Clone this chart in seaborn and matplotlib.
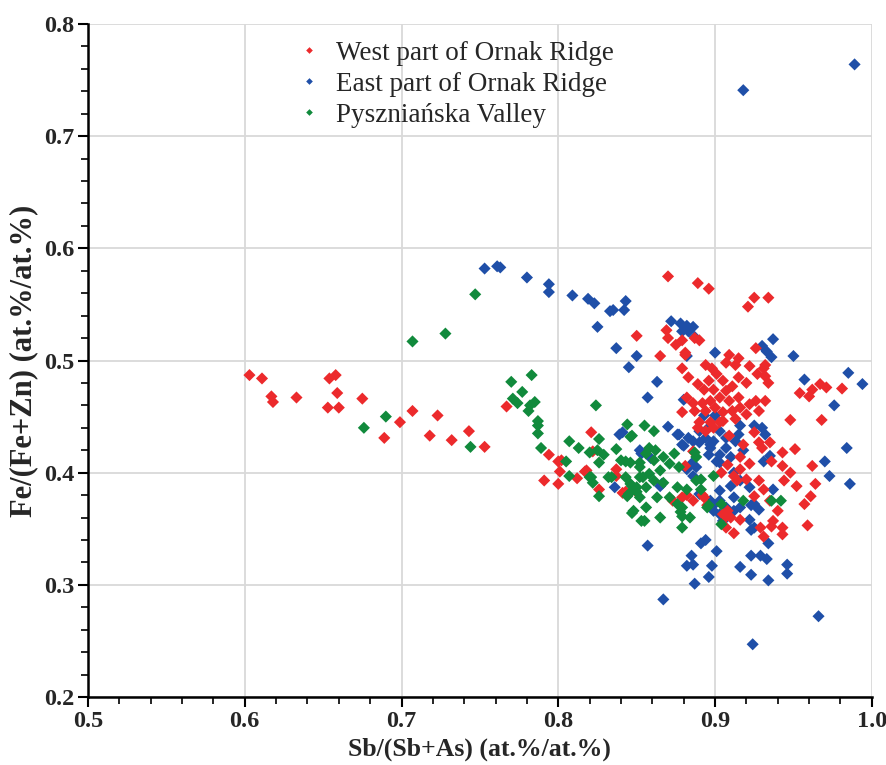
import pandas as pd
import matplotlib
matplotlib.use("Agg")
import matplotlib.pyplot as plt
from matplotlib.ticker import MultipleLocator, FormatStrFormatter
import seaborn as sns

# -------------------------------
# Data
# -------------------------------
west_x = [0.603, 0.611, 0.617, 0.618, 0.633, 0.654, 0.658, 0.659, 0.653, 0.660,
          0.675, 0.707, 0.699, 0.723, 0.718, 0.689, 0.732, 0.743, 0.753, 0.767,
          0.870, 0.889, 0.896, 0.925, 0.934, 0.921, 0.869, 0.870, 0.875, 0.879,
          0.890, 0.850, 0.865, 0.881, 0.887, 0.881, 0.879, 0.883, 0.889, 0.894,
          0.898, 0.901, 0.905, 0.896, 0.893, 0.899, 0.907, 0.911, 0.915, 0.920,
          0.915, 0.909, 0.903, 0.897, 0.892, 0.886, 0.882, 0.887, 0.894, 0.900,
          0.905, 0.911, 0.916, 0.922, 0.926, 0.932, 0.928, 0.920, 0.913, 0.905,
          0.897, 0.890, 0.909, 0.915, 0.913, 0.907, 0.922, 0.927, 0.934, 0.931,
          0.926, 0.889, 0.894, 0.954, 0.960, 0.962, 0.967, 0.971, 0.981, 0.948,
          0.968, 0.932, 0.932, 0.935, 0.930, 0.943, 0.951, 0.943, 0.962, 0.964,
          0.961, 0.957, 0.959, 0.943, 0.936, 0.931, 0.948, 0.952, 0.944, 0.936,
          0.928, 0.916, 0.912, 0.928, 0.931, 0.925, 0.916, 0.907, 0.912, 0.907,
          0.893, 0.886, 0.879, 0.873, 0.904, 0.908, 0.886, 0.899, 0.879, 0.821,
          0.822, 0.794, 0.800, 0.801, 0.791, 0.800, 0.812, 0.817, 0.826, 0.837,
          0.841, 0.935, 0.940, 0.903, 0.909, 0.916, 0.922, 0.914, 0.920, 0.905,
          0.910, 0.881, 0.843, 0.849, 0.802, 0.818, 0.837, 0.908, 0.929, 0.937,
          0.943, 0.882, 0.895, 0.892, 0.925, 0.918]
west_y = [0.487, 0.484, 0.468, 0.463, 0.467, 0.484, 0.487, 0.471, 0.458, 0.458,
          0.466, 0.455, 0.445, 0.451, 0.433, 0.431, 0.429, 0.437, 0.423, 0.459,
          0.575, 0.569, 0.564, 0.556, 0.556, 0.548, 0.527, 0.520, 0.514, 0.518,
          0.518, 0.522, 0.504, 0.505, 0.520, 0.507, 0.493, 0.485, 0.479, 0.496,
          0.493, 0.488, 0.482, 0.482, 0.474, 0.474, 0.473, 0.477, 0.485, 0.480,
          0.467, 0.464, 0.467, 0.464, 0.462, 0.462, 0.467, 0.455, 0.455, 0.458,
          0.454, 0.455, 0.458, 0.461, 0.464, 0.464, 0.455, 0.452, 0.448, 0.446,
          0.445, 0.445, 0.505, 0.502, 0.496, 0.498, 0.495, 0.488, 0.480, 0.493,
          0.511, 0.440, 0.437, 0.471, 0.468, 0.474, 0.479, 0.476, 0.475, 0.447,
          0.447, 0.496, 0.486, 0.427, 0.422, 0.418, 0.421, 0.406, 0.406, 0.390,
          0.379, 0.372, 0.353, 0.345, 0.352, 0.343, 0.400, 0.388, 0.393, 0.410,
          0.427, 0.403, 0.397, 0.393, 0.385, 0.379, 0.358, 0.361, 0.346, 0.351,
          0.378, 0.375, 0.378, 0.375, 0.400, 0.407, 0.419, 0.440, 0.454, 0.436,
          0.419, 0.416, 0.410, 0.401, 0.393, 0.390, 0.395, 0.401, 0.385, 0.403,
          0.382, 0.375, 0.366, 0.445, 0.433, 0.414, 0.408, 0.393, 0.394, 0.363,
          0.360, 0.406, 0.383, 0.384, 0.411, 0.402, 0.397, 0.366, 0.351, 0.357,
          0.351, 0.380, 0.371, 0.380, 0.436, 0.425]

east_x = [0.753, 0.761, 0.763, 0.780, 0.794, 0.794, 0.809, 0.819, 0.823, 0.833,
          0.835, 0.843, 0.842, 0.825, 0.837, 0.850, 0.845, 0.863, 0.857, 0.872,
          0.878, 0.882, 0.886, 0.883, 0.887, 0.879, 0.882, 0.900, 0.937, 0.936,
          0.950, 0.985, 0.994, 0.957, 0.976, 0.930, 0.933, 0.880, 0.893, 0.900,
          0.890, 0.894, 0.903, 0.907, 0.877, 0.883, 0.930, 0.932, 0.918, 0.989,
          0.857, 0.867, 0.891, 0.894, 0.901, 0.885, 0.882, 0.886, 0.898, 0.896,
          0.887, 0.916, 0.923, 0.929, 0.933, 0.923, 0.934, 0.946, 0.946, 0.966,
          0.924, 0.934, 0.923, 0.984, 0.970, 0.973, 0.986, 0.935, 0.870, 0.876,
          0.841, 0.879, 0.890, 0.897, 0.915, 0.916, 0.925, 0.931, 0.885, 0.882,
          0.896, 0.901, 0.903, 0.912, 0.916, 0.903, 0.910, 0.912, 0.899, 0.903,
          0.912, 0.916, 0.925, 0.928, 0.922, 0.925, 0.937, 0.865, 0.836, 0.886,
          0.859, 0.880, 0.886, 0.895, 0.899, 0.897, 0.907, 0.913, 0.918, 0.888,
          0.903, 0.910, 0.890, 0.897, 0.903, 0.907, 0.922, 0.923, 0.852, 0.866,
          0.839, 0.853, 0.899, 0.905]
east_y = [0.582, 0.584, 0.583, 0.574, 0.568, 0.561, 0.558, 0.555, 0.551, 0.544,
          0.545, 0.553, 0.545, 0.530, 0.511, 0.504, 0.494, 0.481, 0.467, 0.535,
          0.533, 0.531, 0.530, 0.526, 0.521, 0.526, 0.504, 0.507, 0.519, 0.503,
          0.504, 0.489, 0.479, 0.483, 0.460, 0.513, 0.508, 0.465, 0.451, 0.451,
          0.437, 0.431, 0.437, 0.431, 0.434, 0.431, 0.440, 0.434, 0.741, 0.764,
          0.335, 0.287, 0.337, 0.340, 0.330, 0.326, 0.317, 0.318, 0.317, 0.307,
          0.301, 0.316, 0.326, 0.326, 0.323, 0.309, 0.304, 0.318, 0.310, 0.272,
          0.247, 0.337, 0.349, 0.422, 0.410, 0.397, 0.390, 0.415, 0.441, 0.434,
          0.436, 0.425, 0.427, 0.425, 0.434, 0.442, 0.442, 0.410, 0.408, 0.403,
          0.416, 0.410, 0.416, 0.400, 0.393, 0.384, 0.388, 0.378, 0.366, 0.363,
          0.366, 0.369, 0.372, 0.367, 0.358, 0.351, 0.385, 0.388, 0.387, 0.397,
          0.413, 0.424, 0.428, 0.439, 0.428, 0.422, 0.422, 0.428, 0.420, 0.405,
          0.409, 0.414, 0.381, 0.375, 0.375, 0.369, 0.387, 0.371, 0.420, 0.390,
          0.434, 0.417, 0.371, 0.357]

valley_x = [0.747, 0.728, 0.707, 0.690, 0.676, 0.744, 0.770, 0.783, 0.777, 0.771,
            0.774, 0.782, 0.785, 0.787, 0.787, 0.781, 0.824, 0.787, 0.789, 0.805,
            0.807, 0.813, 0.826, 0.826, 0.829, 0.837, 0.843, 0.844, 0.847, 0.855,
            0.861, 0.821, 0.826, 0.832, 0.843, 0.847, 0.844, 0.847, 0.856, 0.855,
            0.865, 0.879, 0.879, 0.884, 0.879, 0.891, 0.891, 0.895, 0.899, 0.904,
            0.904, 0.918, 0.936, 0.942, 0.887, 0.846, 0.858, 0.856, 0.862, 0.852,
            0.846, 0.861, 0.867, 0.871, 0.877, 0.874, 0.852, 0.858, 0.865, 0.846,
            0.850, 0.856, 0.861, 0.867, 0.863, 0.871, 0.876, 0.882, 0.888, 0.876,
            0.878, 0.848, 0.853, 0.888, 0.896, 0.820, 0.825, 0.807, 0.820, 0.822,
            0.840, 0.834, 0.852, 0.854, 0.850, 0.845, 0.852]
valley_y = [0.559, 0.524, 0.517, 0.450, 0.440, 0.423, 0.481, 0.487, 0.472, 0.466,
            0.462, 0.460, 0.463, 0.446, 0.435, 0.455, 0.460, 0.442, 0.422, 0.410,
            0.428, 0.422, 0.430, 0.409, 0.416, 0.421, 0.410, 0.443, 0.433, 0.442,
            0.437, 0.396, 0.379, 0.396, 0.396, 0.388, 0.379, 0.364, 0.369, 0.357,
            0.360, 0.369, 0.361, 0.360, 0.351, 0.394, 0.385, 0.369, 0.397, 0.372,
            0.354, 0.375, 0.375, 0.375, 0.418, 0.432, 0.422, 0.417, 0.420, 0.409,
            0.409, 0.411, 0.414, 0.408, 0.405, 0.417, 0.396, 0.399, 0.402, 0.390,
            0.383, 0.387, 0.393, 0.391, 0.378, 0.378, 0.387, 0.385, 0.393, 0.372,
            0.365, 0.366, 0.357, 0.414, 0.371, 0.418, 0.420, 0.397, 0.396, 0.391,
            0.411, 0.396, 0.405, 0.396, 0.387, 0.381, 0.378]

groups = ["West part of Ornak Ridge", "East part of Ornak Ridge", "Pyszniańska Valley"]
colors = ["#ec2a2c", "#1f4fa8", "#118a3c"]

# draw order: east first, then west, then valley on top
df = pd.concat([
    pd.DataFrame({"x": east_x, "y": east_y, "site": groups[1]}),
    pd.DataFrame({"x": west_x, "y": west_y, "site": groups[0]}),
    pd.DataFrame({"x": valley_x, "y": valley_y, "site": groups[2]}),
], ignore_index=True)

# -------------------------------
# Plot
# -------------------------------
sns.set_style("whitegrid")
plt.rcParams['font.family'] = ['Liberation Serif', 'DejaVu Serif']

fig = plt.figure(figsize=(8.86, 7.65), dpi=100)
ax = fig.add_axes([0.0993, 0.0889, 0.8847, 0.8797])

sns.scatterplot(data=df, x="x", y="y", hue="site", hue_order=groups,
                palette=colors, marker="D", s=38, linewidth=0, ax=ax)

ax.set_xlim(0.5, 1.0)
ax.set_ylim(0.2, 0.8)
ax.xaxis.set_major_locator(MultipleLocator(0.1))
ax.xaxis.set_minor_locator(MultipleLocator(0.02))
ax.yaxis.set_major_locator(MultipleLocator(0.1))
ax.yaxis.set_minor_locator(MultipleLocator(0.02))
ax.xaxis.set_major_formatter(FormatStrFormatter('%.1f'))
ax.yaxis.set_major_formatter(FormatStrFormatter('%.1f'))

ax.grid(True, which='major', color='#d9d9d9', linewidth=1.3)
ax.grid(False, which='minor')
ax.set_axisbelow(True)

for side in ['top', 'right']:
    ax.spines[side].set_visible(False)
for side in ['left', 'bottom']:
    ax.spines[side].set_color('black')
    ax.spines[side].set_linewidth(1.8)

ax.tick_params(which='major', direction='out', length=7, width=1.5,
               color='black', left=True, bottom=True, labelsize=17.5, pad=3)
ax.tick_params(which='minor', direction='out', length=5, width=1.2,
               color='black', left=True, bottom=True)
for lbl in ax.get_xticklabels() + ax.get_yticklabels():
    lbl.set_fontweight('bold')

ax.set_xlabel("Sb/(Sb+As) (at.%/at.%)", fontsize=18.5, fontweight='bold', labelpad=4)
ax.set_ylabel("Fe/(Fe+Zn) (at.%/at.%)", fontsize=22, fontweight='bold', labelpad=4)

handles, labels = ax.get_legend_handles_labels()
ax.legend(handles, labels, loc='upper left', bbox_to_anchor=(0.265, 0.975),
          frameon=False, fontsize=19.5, markerscale=0.55, handlelength=0.95,
          handletextpad=0.55, labelspacing=0.22, borderpad=0, borderaxespad=0)

plt.savefig("out.png", dpi=100)
